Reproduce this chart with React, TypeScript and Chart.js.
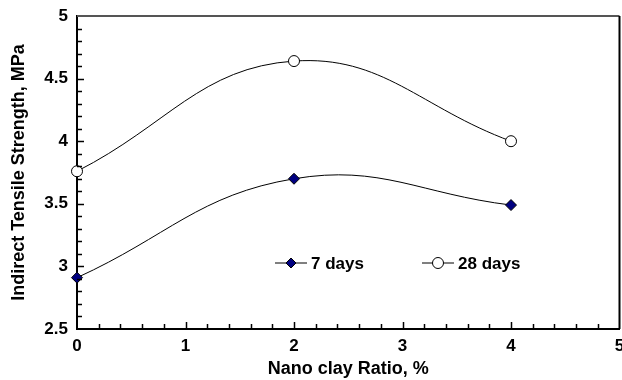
import React, { useEffect, useRef } from "react";
import { Chart, registerables } from "chart.js";

Chart.register(...registerables);

const xValues = [0, 2, 4];
const days7 = [2.91, 3.70, 3.49];
const days28 = [3.76, 4.64, 4.0];
const seriesLabels = ["7 days", "28 days"];
const xTitle = "Nano clay Ratio, %";
const yTitle = "Indirect Tensile Strength, MPa";

const FONT = "'Liberation Sans', Arial, Helvetica, sans-serif";

const framePlugin = {
  id: "frame",
  afterDatasetsDraw(chart: any) {
    const { ctx, chartArea, scales } = chart;
    const xs = scales.x;
    const ys = scales.y;
    ctx.save();
    ctx.lineWidth = 2;
    ctx.strokeStyle = "#555555";
    ctx.beginPath();
    ctx.moveTo(chartArea.left, chartArea.top);
    ctx.lineTo(chartArea.right, chartArea.top);
    ctx.stroke();
    ctx.strokeStyle = "#000";
    ctx.beginPath();
    ctx.moveTo(chartArea.right, chartArea.top);
    ctx.lineTo(chartArea.right, chartArea.bottom);
    ctx.stroke();
    ctx.lineWidth = 1.5;
    ctx.strokeStyle = "#000";
    for (let i = 1; i < 25; i++) {
      const v = 2.5 + i * 0.1;
      const y = Math.round(ys.getPixelForValue(v)) + 0.5;
      const len = i % 5 === 0 ? 7 : 5;
      ctx.beginPath();
      ctx.moveTo(chartArea.left, y);
      ctx.lineTo(chartArea.left + len, y);
      ctx.stroke();
    }
    for (let i = 1; i < 25; i++) {
      const v = i * 0.2;
      const x = Math.round(xs.getPixelForValue(v)) + 0.5;
      const len = i % 5 === 0 ? 7 : 5;
      ctx.beginPath();
      ctx.moveTo(x, chartArea.bottom);
      ctx.lineTo(x, chartArea.bottom - len);
      ctx.stroke();
    }
    ctx.restore();
  },
};

const legendPlugin = {
  id: "innerLegend",
  afterDraw(chart: any) {
    const { ctx, chartArea } = chart;
    const y = chartArea.bottom - 66;
    const items = [
      { x: chartArea.left + 198, label: chart.data.datasets[0].label, kind: "diamond" },
      { x: chartArea.left + 345, label: chart.data.datasets[1].label, kind: "circle" },
    ];
    ctx.save();
    for (const it of items) {
      ctx.strokeStyle = "#000";
      ctx.lineWidth = 1;
      ctx.beginPath();
      ctx.moveTo(it.x, y);
      ctx.lineTo(it.x + 32, y);
      ctx.stroke();
      const cx = it.x + 16;
      ctx.beginPath();
      if (it.kind === "diamond") {
        ctx.fillStyle = "#000080";
        ctx.moveTo(cx, y - 5);
        ctx.lineTo(cx + 5, y);
        ctx.lineTo(cx, y + 5);
        ctx.lineTo(cx - 5, y);
        ctx.closePath();
      } else {
        ctx.fillStyle = "#ffffff";
        ctx.arc(cx, y, 5.5, 0, Math.PI * 2);
      }
      ctx.fill();
      ctx.lineWidth = 1;
      ctx.stroke();
      ctx.fillStyle = "#000";
      ctx.font = `bold 17px ${FONT}`;
      ctx.textBaseline = "middle";
      ctx.textAlign = "left";
      ctx.fillText(it.label, it.x + 36, y + 1);
    }
    ctx.restore();
  },
};

export default function App() {
  const ref = useRef<HTMLCanvasElement>(null);
  useEffect(() => {
    if (!ref.current) return;
    const chart = new Chart(ref.current, {
      type: "line",
      data: {
        datasets: [
          {
            label: seriesLabels[0],
            data: xValues.map((x, i) => ({ x, y: days7[i] })),
            borderColor: "#000",
            borderWidth: 1,
            backgroundColor: "#000080",
            pointStyle: "rectRot",
            pointRadius: 5.5,
            pointBorderColor: "#000",
            pointBorderWidth: 1,
            pointBackgroundColor: "#000080",
            tension: 0.42,
            clip: false as any,
          },
          {
            label: seriesLabels[1],
            data: xValues.map((x, i) => ({ x, y: days28[i] })),
            borderColor: "#000",
            borderWidth: 1,
            backgroundColor: "#fff",
            pointStyle: "circle",
            pointRadius: 5.5,
            pointBorderColor: "#000",
            pointBorderWidth: 1,
            pointBackgroundColor: "#fff",
            tension: 0.42,
            clip: false as any,
          },
        ],
      },
      options: {
        responsive: false,
        animation: false,
        layout: { padding: { top: 16, right: 0, left: 0, bottom: 0 } },
        plugins: {
          legend: { display: false },
          tooltip: { enabled: false },
        },
        scales: {
          x: {
            type: "linear",
            min: 0,
            max: 5,
            grid: { display: false, drawTicks: false },
            border: { display: true, color: "#000", width: 2 },
            ticks: {
              stepSize: 1,
              padding: 7,
              color: "#000",
              font: { family: FONT, size: 17, weight: "bold" },
              callback: (v: any) => String(v),
            },
            title: {
              display: true,
              text: xTitle,
              color: "#000",
              font: { family: FONT, size: 18, weight: "bold" },
              padding: { top: 0, bottom: 0 },
            },
            afterFit(scale: any) {
              scale.height = 51;
              scale.paddingLeft = 0;
              scale.paddingRight = 0;
            },
          },
          y: {
            type: "linear",
            min: 2.5,
            max: 5,
            grid: { display: false, drawTicks: false },
            border: { display: true, color: "#000", width: 2 },
            ticks: {
              stepSize: 0.5,
              padding: 9,
              color: "#000",
              font: { family: FONT, size: 17, weight: "bold" },
              callback: (v: any) => String(v),
            },
            title: {
              display: true,
              text: yTitle,
              color: "#000",
              font: { family: FONT, size: 18, weight: "bold" },
              padding: { top: 8, bottom: 0 },
            },
            afterFit(scale: any) {
              scale.width = 77;
              scale.paddingTop = 0;
              scale.paddingBottom = 0;
            },
          },
        },
      },
      plugins: [framePlugin, legendPlugin],
    });
    return () => chart.destroy();
  }, []);
  return (
    <div
      style={{
        position: "fixed",
        left: 0,
        top: 0,
        width: 622,
        height: 380,
        overflow: "hidden",
        background: "#fff",
      }}
    >
      <canvas ref={ref} width={626} height={380} style={{ display: "block" }} />
    </div>
  );
}
